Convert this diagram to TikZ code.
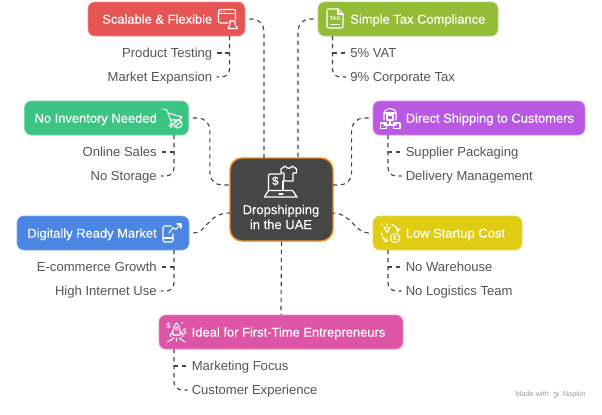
\documentclass[tikz,border=0pt]{standalone}
\usepackage{fontspec}
\setmainfont{Liberation Sans}
\newfontfamily\medfont[FakeBold=0.18]{Liberation Sans}
\def\pxu{0.75pt}
\definecolor{cred}{HTML}{E65554}
\definecolor{cgreen}{HTML}{3CC582}
\definecolor{cblue}{HTML}{4B86E5}
\definecolor{cpink}{HTML}{DE55A8}
\definecolor{colive}{HTML}{93BD37}
\definecolor{cpurple}{HTML}{B959E3}
\definecolor{cyel}{HTML}{E0CC12}
\definecolor{cdark}{HTML}{464646}
\definecolor{corange}{HTML}{F08A24}
\definecolor{ctext}{HTML}{555555}
\tikzset{
 x=0.75pt,y=-0.75pt,
 box/.style={rectangle,rounded corners=5.2pt,inner sep=0pt,line width=0.5pt},
 title/.style={text=white,inner sep=0pt,font=\medfont\fontsize{9.7pt}{11pt}\selectfont,text height=8.5pt,text depth=1.5pt},
 sub/.style={text=ctext,inner sep=0pt,font=\fontsize{9.8pt}{11pt}\selectfont,text height=8.5pt,text depth=1.5pt},
 conn/.style={draw=cdark,line width=0.85pt,dash pattern=on 3.2pt off 2.8pt,rounded corners=9pt},
 branch/.style={draw=cdark,line width=0.85pt,dash pattern=on 3.2pt off 2.8pt,rounded corners=6pt},
 ic/.style={draw=white,line width=0.8pt,line join=round,line cap=round},
}
\begin{document}
\begin{tikzpicture}
\useasboundingbox[fill=white] (0,0) rectangle (602,414);
% hub
\node[box,rounded corners=9pt,fill=cdark,draw=corange,line width=1.1pt,minimum width=103*\pxu,minimum height=83*\pxu] (hub) at (281.5,199.5) {};
\node[inner sep=0pt,text=white,align=center,font=\medfont\fontsize{9.75pt}{11.2pt}\selectfont] (hublabel) at (281,217) {Dropshipping\\in the UAE};
% boxes
\node[box,fill=cred,draw=cred!70!white,minimum width=157*\pxu,minimum height=34*\pxu] (red) at (166.5,19) {};
\node[box,fill=colive,draw=colive!70!white,minimum width=180*\pxu,minimum height=34*\pxu] (tax) at (408,19) {};
\node[box,fill=cgreen,draw=cgreen!70!white,minimum width=164*\pxu,minimum height=34*\pxu] (green) at (106.5,118) {};
\node[box,fill=cpurple,draw=cpurple!70!white,minimum width=212*\pxu,minimum height=34*\pxu] (purple) at (479,118) {};
\node[box,fill=cblue,draw=cblue!70!white,minimum width=172*\pxu,minimum height=34*\pxu] (blue) at (103,233) {};
\node[box,fill=cyel,draw=cyel!70!white,minimum width=149*\pxu,minimum height=34*\pxu] (yel) at (447.5,233) {};
\node[box,fill=cpink,draw=cpink!70!white,minimum width=244*\pxu,minimum height=34*\pxu] (pink) at (281,332) {};
% titles
\node[title,anchor=east] (t1) at (212.5,19) {Scalable \& Flexible};
\node[title,anchor=west] (t2) at (350,19) {Simple Tax Compliance};
\node[title,anchor=east] (t3) at (157,118) {No Inventory Needed};
\node[title,anchor=west] (t4) at (405.5,118) {Direct Shipping to Customers};
\node[title,anchor=east] (t5) at (157,233) {Digitally Ready Market};
\node[title,anchor=west] (t6) at (405.5,233) {Low Startup Cost};
\node[title,anchor=west] (t7) at (191.5,332) {Ideal for First-Time Entrepreneurs};
% sub labels
\node[sub,anchor=east] (s1a) at (212.5,53) {Product Testing};
\node[sub,anchor=east] (s1b) at (212.5,77) {Market Expansion};
\node[sub,anchor=west] (s2a) at (350,53) {5\% VAT};
\node[sub,anchor=west] (s2b) at (350,77) {9\% Corporate Tax};
\node[sub,anchor=east] (s3a) at (157,152) {Online Sales};
\node[sub,anchor=east] (s3b) at (157,176) {No Storage};
\node[sub,anchor=west] (s4a) at (405.5,152) {Supplier Packaging};
\node[sub,anchor=west] (s4b) at (405.5,176) {Delivery Management};
\node[sub,anchor=east] (s5a) at (157,267) {E-commerce Growth};
\node[sub,anchor=east] (s5b) at (157,291) {High Internet Use};
\node[sub,anchor=west] (s6a) at (405.5,267) {No Warehouse};
\node[sub,anchor=west] (s6b) at (405.5,291) {No Logistics Team};
\node[sub,anchor=west] (s7a) at (191.5,366) {Marketing Focus};
\node[sub,anchor=west] (s7b) at (191.5,390) {Customer Experience};
% watermark
\node[inner sep=0pt,anchor=east,text=black!38,font=\fontsize{5.5pt}{6pt}\selectfont] (wm) at (586,395) {Made with \hspace{9pt}Napkin};
\draw[black!38,line width=0.5pt] (554,392) -- (558,395) -- (554,398) (557,392) -- (559,394);
% anchors on hub edges
\coordinate (hn1) at (264,158);
\coordinate (hn2) at (298,158);
\coordinate (hw1) at (230,185);
\coordinate (hw2) at (230,213);
\coordinate (he1) at (333,185);
\coordinate (he2) at (333,213);
% main connectors
\draw[conn,shorten <=3pt] (red.east) -| (hn1);
\draw[conn,shorten <=3pt] (tax.west) -| (hn2);
\draw[conn,shorten <=3pt] (green.east) -- ++(21,0) |- (hw1);
\draw[conn,shorten <=3pt] (purple.west) -- ++(-21,0) |- (he1);
\draw[conn,shorten <=3pt] (blue.east) .. controls ++(18,0) and (207,213) .. (hw2);
\draw[conn,shorten <=3pt] (yel.west) .. controls ++(-18,0) and (351,213) .. (he2);
\draw[conn] (hub.south) -- (pink.north);
% sub connectors
\coordinate (r0) at (229.5,36); \coordinate (g0) at (174,135); \coordinate (b0) at (174,250);
\coordinate (p0) at (174,349); \coordinate (x0) at (332.5,36); \coordinate (u0) at (388,135); \coordinate (y0) at (388,250);
\foreach \o/\a/\b in {r0/s1a/s1b,g0/s3a/s3b,b0/s5a/s5b,p0/s7a/s7b,x0/s2a/s2b,u0/s4a/s4b,y0/s6a/s6b}{
  \draw[branch,shorten >=3pt] (\o) |- (\b);
  \draw[branch,shorten >=3.5pt] (\o |- \a) -- (\a);
}
% icon: red
\begin{scope}
\draw[ic] (228,23) -- (221,23) .. controls (219,23) and (218.5,22.5) .. (218.5,21) -- (218.5,11.5) .. controls (218.5,10) and (219,9.5) .. (221,9.5) -- (233.5,9.5) .. controls (235,9.5) and (235.5,10) .. (235.5,11.5) -- (235.5,19);
\draw[ic] (218.5,13.5) -- (235.5,13.5);
\draw[ic] (230,21) -- (230,24) -- (228,28.5) -- (237.5,28.5) -- (235,24) -- (235,21) -- cycle;
\fill[white] (221,11.5) circle (0.7) (224,11.5) circle (0.7);
\end{scope}
% icon: cart
\draw[ic] (163,109) -- (167,110) -- (172,124) -- (177,122);
\draw[ic] (168.5,113) -- (182,117) -- (179,120) -- (171,120);
\draw[ic] (171,125.5) circle (1.8);
\draw[ic] (178,124) circle (4);
\draw[ic] (175.5,126.5) -- (180.5,121.5);
% icon: tax
\draw[ic] (327,11) .. controls (327,9.5) and (327.5,9) .. (329,9) -- (338,9) -- (343,14) -- (343,26) .. controls (343,27.5) and (342.5,28) .. (341,28) -- (329,28) .. controls (327.5,28) and (327,27.5) .. (327,26) -- cycle;
\draw[ic] (338,9) -- (338,14) -- (343,14);
\node[inner sep=0pt,text=white,font=\bfseries\fontsize{4.2pt}{5pt}\selectfont] (taxicon) at (335,18.5) {TAX};
\draw[ic] (331,24.5) -- (339,24.5);
% icon: warehouse
\draw[ic] (384,120) -- (384,114) .. controls (384,110) and (387,108.5) .. (390,108.5) .. controls (393,108.5) and (396,110) .. (396,114) -- (396,120);
\draw[ic] (384,113) -- (396,113);
\draw[ic] (387,115) rectangle (393,120);
\draw[ic] (390,120) -- (390,125) (384,125) -- (396,125);
\draw[ic] (380.5,123) rectangle (386.5,128.5);
\draw[ic] (393.5,123) rectangle (400,128.5);
% icon: phone
\draw[ic] (171,226) -- (164.5,226) .. controls (163.5,226) and (163,226.5) .. (163,227.5) -- (163,240.5) .. controls (163,241.5) and (163.5,242) .. (164.5,242) -- (171,242) .. controls (172,242) and (173,241.5) .. (173,240.5) -- (173,234);
\draw[ic] (163,238) -- (173,238);
\draw[ic] (169,233) -- (173,227.5) -- (175.5,229.5) -- (181,224);
\draw[ic] (177,224) -- (181,224) -- (181,228);
% icon: low cost
\draw[ic] (384,227.5) -- (390,227.5) -- (387,232.5) -- cycle;
\draw[ic] (387,225) -- (387,223.5) (382,225) -- (381,224) (392,225) -- (393,224);
\draw[ic,->,>=stealth] (392,225) .. controls (396,226) and (398,229) .. (397.5,233);
\draw[ic,->,>=stealth] (381.5,232) .. controls (381.5,236) and (384,240) .. (389,241);
\draw[ic] (395,238) circle (4.6);
\node[inner sep=0pt,text=white,font=\bfseries\fontsize{5pt}{5pt}\selectfont] (coin) at (395,238) {\$};
% icon: rocket
\draw[ic] (176.5,323) .. controls (173.5,326) and (172.5,329) .. (173,335) -- (180,335) .. controls (180.5,329) and (179.5,326) .. (176.5,323) -- cycle;
\draw[ic] (176.5,328.5) circle (1.6);
\draw[ic] (173,331) -- (170,335) -- (171,337) (180,331) -- (183,335) -- (182,337);
\draw[ic] (174,338) -- (167.5,342) (176.5,338) -- (176.5,341) (179,338) -- (185,342);
\node[inner sep=0pt,text=white,font=\fontsize{6pt}{6pt}\selectfont] (d1) at (168.5,325.5) {\$};
\node[inner sep=0pt,text=white,font=\fontsize{6pt}{6pt}\selectfont] (d2) at (184.5,332) {\$};
\fill[white] (182,323) circle (0.8);
% icon: hub
\draw[ic,line width=0.95pt] (281,174) -- (270.5,174) .. controls (269,174) and (268.5,174.5) .. (268.5,176) -- (268.5,190);
\draw[ic,line width=0.95pt] (283,181) -- (283,190.5);
\draw[ic,line width=0.95pt] (268.5,190.5) -- (264.5,197) -- (297,197) -- (292.5,190.5) -- cycle;
\draw[ic,line width=0.95pt] (279,194) -- (283,194);
\draw[ic,line width=0.95pt] (285,166) -- (281,169) -- (281,173) -- (284,173) -- (284,181) -- (293,181) -- (293,173) -- (296.5,173) -- (296.5,169) -- (292.5,166) .. controls (291,169) and (286.5,169) .. (285,166) -- cycle;
\node[inner sep=0pt,text=white,font=\bfseries\fontsize{9pt}{9pt}\selectfont] (dollar) at (275.5,181.5) {\$};
\end{tikzpicture}
\end{document}
